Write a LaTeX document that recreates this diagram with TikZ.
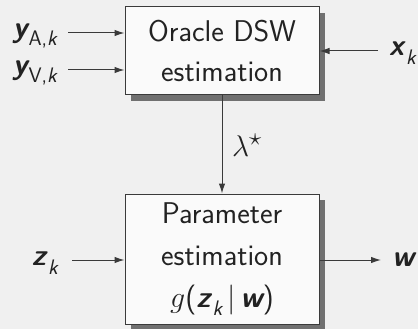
\documentclass[tikz,border=0pt]{standalone}
\usepackage{graphicx}
\usetikzlibrary{arrows.meta,shadows}
\definecolor{bgc}{HTML}{F0F0F0}
\definecolor{boxfill}{HTML}{FAFAFA}
\definecolor{linec}{HTML}{3A3A3A}
\definecolor{textc}{HTML}{222222}
\definecolor{shadowc}{HTML}{707070}
\newcommand{\vbf}[1]{{\sffamily\bfseries\itshape #1}}
\newcommand{\sfi}[1]{{\sffamily\itshape #1}}
\newcommand{\subs}[1]{\raisebox{-0.28em}{\fontsize{21}{24}\selectfont #1}}
\begin{document}
\begin{tikzpicture}[x=1pt,y=1pt,
  every node/.style={font=\sffamily\fontsize{30}{36}\selectfont, text=textc},
  blockbox/.style={draw=linec, line width=1pt, fill=boxfill, minimum width=194pt, align=center,
     drop shadow={shadow xshift=6pt, shadow yshift=-6pt, fill=shadowc, opacity=1}},
  lbl/.style={inner sep=1pt},
  conn/.style={draw=linec, line width=1pt, -{Latex[length=10pt,width=6.5pt]}}]
\fill[bgc] (0,0) rectangle (418,-329);
\useasboundingbox (0,0) rectangle (418,-329);
\node[blockbox, minimum height=88pt, font=\sffamily\fontsize{30}{40}\selectfont] (b1) at (222,-51) {Oracle DSW\\estimation};
\node[blockbox, minimum height=130pt, font=\sffamily\fontsize{30}{42}\selectfont] (b2) at (222,-259) {Parameter\\estimation\\\scalebox{1.2}{$g$}(\vbf{z}\kern2pt\subs{\sfi{k}}\,|\,\vbf{w})};
\node[lbl, anchor=east] (ya) at (58,-36) {\vbf{y}\kern1pt\subs{A,\sfi{k}}};
\node[lbl, anchor=east] (yv) at (58,-73) {\vbf{y}\kern1pt\subs{V,\sfi{k}}};
\node[lbl, anchor=west] (xk) at (388,-53) {\vbf{x}\kern2pt\subs{\sfi{k}}};
\node[lbl, anchor=east] (zk) at (59,-263) {\vbf{z}\kern2pt\subs{\sfi{k}}};
\node[lbl, anchor=west] (w) at (391,-260) {\vbf{w}};
\node[lbl] (lam) at (247,-145) {\scalebox{1.2}{$\lambda^\star$}};
\coordinate (yas) at (68,-33);
\coordinate (yvs) at (68,-70);
\coordinate (xks) at (378,-51);
\coordinate (zks) at (72,-260);
\coordinate (we) at (381,-260);
\draw[conn] (yas) -- (yas -| b1.west);
\draw[conn] (yvs) -- (yvs -| b1.west);
\draw[conn] (xks) -- (xks -| b1.east);
\draw[conn] (zks) -- (zks -| b2.west);
\draw[conn] (b2.east |- we) -- (we);
\draw[conn] (b1.south) -- (b2.north);
\end{tikzpicture}
\end{document}
